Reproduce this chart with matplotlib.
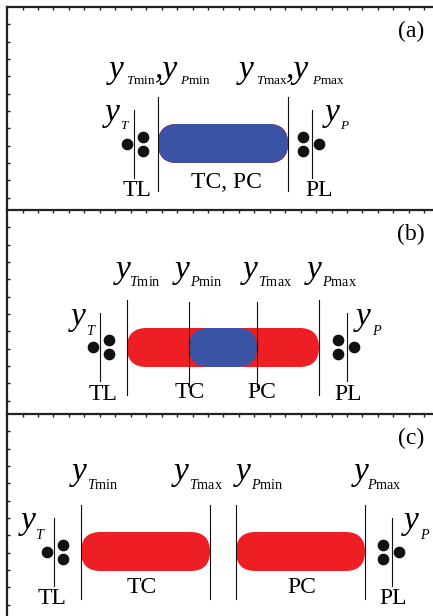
import numpy as np
import matplotlib
matplotlib.use("Agg")
import matplotlib.pyplot as plt
from matplotlib.patches import FancyBboxPatch

plt.rcParams['font.family'] = ['Liberation Serif', 'DejaVu Serif']
plt.rcParams['mathtext.fontset'] = 'custom'
plt.rcParams['mathtext.rm'] = 'Liberation Serif'
plt.rcParams['mathtext.it'] = 'Liberation Serif:italic'

# ---- schematic data (positions on a common horizontal scale) ----
panel_tags = ['(a)', '(b)', '(c)']
t_min = [158, 127, 81]
t_max = [288, 257, 210]
p_min = [158, 189, 236]
p_max = [288, 319, 365]
tl_pos = [134, 100, 54]
pl_pos = [312, 347, 392]
zone_labels = [['TL', 'TC, PC', 'PL'],
               ['TL', 'TC', 'PC', 'PL'],
               ['TL', 'TC', 'PC', 'PL']]
zone_label_x = [[137, 226, 319],
                [103, 190, 262, 348],
                [52, 142, 302, 393]]

# ---- layout (pixel units) ----
W, H = 433, 616
panel_top = [7, 210, 414]
panel_bot = [210, 414, 616]
center_y = [143.5, 347.5, 551.5]
pill_h = 39
RED = '#ed1f24'
BLUE = '#3a53a4'
YSIZE = 24
SUBSIZES = [9.5, 10.3, 10.2]

fig = plt.figure(figsize=(W / 100, H / 100), dpi=100)


def ylab(ax, x, yb, sub_it, sub_rm, dy, xs, subsize, lead=''):
    ax.text(x, yb, lead + 'y', fontsize=YSIZE, fontstyle='italic', ha='left',
            va='baseline', clip_on=False)
    ax.text(xs, yb + dy, '$' + sub_it + '$' + sub_rm, fontsize=subsize,
            ha='left', va='baseline', clip_on=False)


def pill(ax, x0, x1, yc, color):
    r = pill_h / 2
    p = FancyBboxPatch((x0, yc - r), x1 - x0, pill_h,
                       boxstyle='round,pad=0,rounding_size=%f' % r,
                       fc=color, ec='none', zorder=2)
    ax.add_patch(p)


for i in range(3):
    top, bot = panel_top[i], panel_bot[i]
    ss = SUBSIZES[i]
    ax = fig.add_axes([7 / W, (H - bot) / H, (W - 7) / W, (bot - top) / H])
    ax.set_xlim(7, W)
    ax.set_ylim(bot, top)
    for s in ['right', 'bottom']:
        ax.spines[s].set_visible(False)
    ax.spines['top'].set_linewidth(1.6)
    ax.spines['left'].set_linewidth(1.6)
    ax.spines['top'].set_color('#222222')
    ax.spines['left'].set_color('#222222')
    ax.xaxis.tick_top()
    ax.set_xticks(np.arange(7 + 15.6, W, 15.45))
    ax.set_yticks(np.arange(top + 17.2, bot - 2, 17.35))
    ax.tick_params(direction='in', length=2.2, width=1.0, color='#222222',
                   labeltop=False, labelleft=False, labelbottom=False)
    ax.patch.set_alpha(0)

    yc = center_y[i]
    # pills
    pill(ax, t_min[i], t_max[i], yc, RED)
    pill(ax, p_min[i], p_max[i], yc, RED)
    lo, hi = max(t_min[i], p_min[i]), min(t_max[i], p_max[i])
    if hi > lo:
        pill(ax, lo, hi, yc, BLUE)

    # vertical boundary lines
    bounds = sorted(set([t_min[i], t_max[i], p_min[i], p_max[i]]))
    for b in bounds:
        inner = (b > min(bounds)) and (b < max(bounds))
        if inner and i == 1:
            y0, y1 = yc - 45.5, yc + 39.5
        else:
            y0, y1 = yc - 47, yc + 47
        ax.plot([b, b], [y0, y1], color='#111111', lw=0.8, zorder=3)

    # TL / PL short lines and dots
    ax.plot([tl_pos[i]] * 2, [yc - 34, yc + 34], color='#111111', lw=0.8, zorder=3)
    ax.plot([pl_pos[i]] * 2, [yc - 34, yc + 34], color='#111111', lw=0.8, zorder=3)
    ax.plot([tl_pos[i] - 7], [yc], 'o', color='#111111', ms=7.4, zorder=4)
    ax.plot([tl_pos[i] + 9] * 2, [yc - 7, yc + 7], 'o', color='#111111', ms=7.4,
            ls='none', zorder=4)
    ax.plot([pl_pos[i] - 9] * 2, [yc - 7, yc + 7], 'o', color='#111111', ms=7.4,
            ls='none', zorder=4)
    ax.plot([pl_pos[i] + 6.5], [yc], 'o', color='#111111', ms=7.4, zorder=4)

    # panel tag
    ax.text(411, top + 24, panel_tags[i], fontsize=17, ha='center',
            va='center', clip_on=False)

    # zone labels
    for lab, lx in zip(zone_labels[i], zone_label_x[i]):
        if lab in ('TL', 'PL'):
            yb = yc + 52.5
        else:
            yb = yc + (44.5 if i == 0 else (50.5 if i == 1 else 41.5))
        ax.text(lx, yb, lab, fontsize=17, ha='center', va='baseline',
                clip_on=False)

    # y_T and y_P labels
    ytb = yc - 22.5
    if i == 0:
        ylab(ax, 105, ytb, 'T', '', 8, 120, ss)
        ylab(ax, 325, ytb, 'P', '', 8, 340, ss)
    elif i == 1:
        ylab(ax, 71, ytb, 'T', '', 10, 86, ss)
        ylab(ax, 356, ytb, 'P', '', 10, 372, ss)
    else:
        ylab(ax, 21, ytb, 'T', '', 10, 35, ss)
        ylab(ax, 404, ytb, 'P', '', 10, 420, ss)

    # boundary labels
    if i == 0:
        yb = 78
        ylab(ax, 109, yb, 'T', 'min', 6, 126, ss)
        ylab(ax, 154.5, yb, 'P', 'min', 6, 180, ss, lead=',')
        ylab(ax, 239, yb, 'T', 'max', 6, 256, ss)
        ylab(ax, 285.5, yb, 'P', 'max', 6, 312, ss, lead=',')
    elif i == 1:
        yb = 278
        ylab(ax, 116, yb, 'T', 'min', 8, 129, ss)
        ylab(ax, 175, yb, 'P', 'min', 8, 190, ss)
        ylab(ax, 243, yb, 'T', 'max', 8, 258, ss)
        ylab(ax, 307, yb, 'P', 'max', 8, 322, ss)
    else:
        yb = 480
        ylab(ax, 72, yb, 'T', 'min', 9, 87, ss)
        ylab(ax, 174, yb, 'T', 'max', 9, 189, ss)
        ylab(ax, 236, yb, 'P', 'min', 9, 251, ss)
        ylab(ax, 354, yb, 'P', 'max', 9, 367, ss)

fig.savefig('out.png', dpi=100, facecolor='white')
